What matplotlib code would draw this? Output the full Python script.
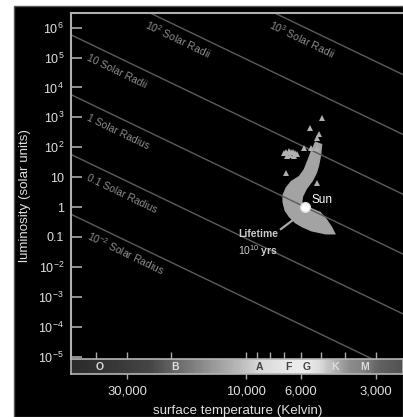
import numpy as np
import matplotlib.pyplot as plt
from matplotlib.colors import LinearSegmentedColormap, Normalize
from matplotlib.patches import Rectangle, Polygon
from matplotlib.ticker import NullLocator

plt.rcParams['font.family'] = ['Liberation Sans', 'DejaVu Sans']
plt.rcParams['mathtext.fontset'] = 'custom'
plt.rcParams['mathtext.rm'] = 'Liberation Sans'
plt.rcParams['mathtext.it'] = 'Liberation Sans:italic'
plt.rcParams['mathtext.bf'] = 'Liberation Sans:bold'

# Solar temperature used for the constant-radius lines
T_SUN = 5778

# Axis ranges (Kelvin, solar luminosities)
T_MAX = 50350
T_MIN = 2338
L_MIN = 10 ** -5.08
L_MAX = 10 ** 6.49

# Constant radius lines and their labels
rayons = [0.01, 0.1, 1, 10, 100, 1000]
labels_rayons = [r'$10^{-2}$ Solar Radius', '0.1 Solar Radius', '1 Solar Radius',
                 '10 Solar Radii', r'$10^{2}$ Solar Radii', r'$10^{3}$ Solar Radii']
temp_labels_rayons = [43900, 43900, 43900, 43900, 25700, 8150]

# Main sequence cloud outline
ms_temp = [5234, 4997, 5044, 5137, 5234, 5430, 5741, 5958, 6013, 5690, 5382, 5044,
           4775, 4561, 4439, 4775, 5430, 5904, 6297, 6656, 6906, 7036, 7036, 6838,
           6533, 6067, 5793, 5584, 5430]
ms_lum = [138, 119, 55, 25.4, 14.8, 8.0, 4.3, 2.33, 1.36, 1.0, 0.79, 0.63,
          0.37, 0.21, 0.135, 0.135, 0.17, 0.23, 0.315, 0.50, 0.79, 1.47, 2.5, 4.3,
          6.9, 10.1, 17.3, 37, 69]

# Giants (triangles), with the small clump near 60 solar luminosities
geantes_temp = [4966, 5534, 5084, 5155, 5849, 5497, 5172, 6866, 5172,
                7036, 6900, 6714, 6600, 6476, 6350, 6237, 6838, 6650, 6412]
geantes_lum = [927, 429, 276, 199, 96, 96, 92, 13.4, 6.5,
               64, 70, 75, 72, 69, 63, 59, 51, 55, 51]

# Sun
sun_temp = 5800
sun_lum = 1.0

# Lifetime pointer
pointer_temp = [6475, 7230]
pointer_lum = [0.367, 0.184]

# Tick values
y_ticks = [1e-5, 1e-4, 1e-3, 1e-2, 0.1, 1, 10, 1e2, 1e3, 1e4, 1e5, 1e6]
y_labels = [r'$10^{-5}$', r'$10^{-4}$', r'$10^{-3}$', r'$10^{-2}$', '0.1', '1', '10',
            r'$10^{2}$', r'$10^{3}$', r'$10^{4}$', r'$10^{5}$', r'$10^{6}$']
x_ticks_haut = [40000, 30000, 20000, 10000, 9000, 8000, 7000, 6000, 5000, 4000, 3000]
x_ticks = [30000, 10000, 6000, 3000]
x_labels = ['30,000', '10,000', '6,000', '3,000']

# Spectral classes bar
classes = ['O', 'B', 'A', 'F', 'G', 'K', 'M']
classes_temp = [38500, 19200, 8845, 6763, 5677, 4393, 3326]
classes_couleur = ['#dddddd', '#dddddd', '#444444', '#444444', '#444444', '#dddddd', '#dddddd']
gradient_temp = [50350, 38500, 24300, 19300, 13950, 10570, 8790, 6780, 5690, 5040,
                 4390, 3820, 3325, 2895, 2338]
gradient_gris = [0.17, 0.20, 0.27, 0.40, 0.58, 0.73, 0.85, 0.91, 0.93, 0.86,
                 0.70, 0.55, 0.50, 0.38, 0.32]

fig = plt.figure(figsize=(4.03, 4.17), dpi=100, facecolor='white')
fig.patches.append(Rectangle((14 / 403, 0), 1 - 14 / 403, 411 / 417,
                             transform=fig.transFigure, facecolor='black',
                             edgecolor='#555555', linewidth=1, zorder=-10))

ax = fig.add_axes([71 / 403, 58 / 417, 332 / 403, 346 / 417])
ax.set_facecolor('black')
ax.set_xscale('log')
ax.set_yscale('log')
ax.set_xlim(T_MAX, T_MIN)
ax.set_ylim(L_MIN, L_MAX)

# Constant radius lines: L = R^2 (T / T_sun)^4
t_ligne = np.array([T_MAX, T_MIN])
for r, lab, t0 in zip(rayons, labels_rayons, temp_labels_rayons):
    ax.plot(t_ligne, r ** 2 * (t_ligne / T_SUN) ** 4, color='#5c5c5c', lw=1)
    ax.annotate(lab, xy=(t0, r ** 2 * (t0 / T_SUN) ** 4), xytext=(0, -13),
                textcoords='offset points', rotation=-25.7, rotation_mode='anchor',
                ha='left', va='baseline', fontsize=7.5, color='#8e8e8e',
                annotation_clip=False)

# Stars
ax.add_patch(Polygon(np.column_stack([ms_temp, ms_lum]), closed=True,
                     facecolor='#a3a3a3', edgecolor='#a3a3a3', lw=2))
ax.plot(geantes_temp, geantes_lum, '^', ms=4.5, color='#b0b0b0', mew=0)
ax.plot(pointer_temp, pointer_lum, color='#a8a8a8', lw=1.6)
ax.plot(sun_temp, sun_lum, 'o', ms=7, color='white', mec='#dddddd')
ax.text(5447, 1.71, 'Sun', fontsize=8.5, color='white', ha='left', va='center')
ax.text(8950, 0.058, 'Lifetime\n' + r'$10^{10}$ yrs', fontsize=7.5, color='#cccccc',
        ha='center', va='center', fontweight='bold', linespacing=1.3)

ax.set_yticks(y_ticks)
ax.set_yticklabels(y_labels)
ax.yaxis.set_minor_locator(NullLocator())
ax.set_xticks(x_ticks_haut)
ax.xaxis.set_minor_locator(NullLocator())
ax.tick_params(axis='y', direction='in', length=8, width=1.2, color='#aaaaaa',
               labelcolor='#e0e0e0', labelsize=9, pad=5)
ax.tick_params(axis='x', direction='in', length=5, width=1, color='#aaaaaa',
               labelbottom=False)
for side in ['bottom', 'right']:
    ax.spines[side].set_visible(False)
for side in ['left', 'top']:
    ax.spines[side].set_color('#b0b0b0')
    ax.spines[side].set_linewidth(1.5)

# Spectral bar
bax = fig.add_axes([71 / 403, 43 / 417, 332 / 403, 15 / 417])
bax.set_xscale('log')
bax.set_xlim(T_MAX, T_MIN)
bax.set_ylim(0, 1)
vmin, vmax = np.log10(T_MIN), np.log10(T_MAX)
stops = [((np.log10(t) - vmin) / (vmax - vmin), (g, g, g))
         for t, g in zip(gradient_temp[::-1], gradient_gris[::-1])]
cmap = LinearSegmentedColormap.from_list('spectre', stops)
bords = np.geomspace(T_MIN, T_MAX, 300)
centres = np.sqrt(bords[:-1] * bords[1:])
bax.pcolormesh(bords, [0, 1], np.log10(centres)[np.newaxis, :], cmap=cmap,
               norm=Normalize(vmin, vmax), shading='flat')
for c, t, col in zip(classes, classes_temp, classes_couleur):
    bax.text(t, 0.48, c, ha='center', va='center', fontsize=7.5, fontweight='bold', color=col)
bax.set_yticks([])
bax.set_xticks(x_ticks)
bax.set_xticklabels(x_labels)
bax.xaxis.set_minor_locator(NullLocator())
bax.tick_params(axis='x', direction='out', length=3.5, width=1, color='#aaaaaa',
                labelcolor='#e0e0e0', labelsize=9.4, pad=5)
for s in bax.spines.values():
    s.set_color('#b5b5b5')
    s.set_linewidth(1.2)

fig.text(238 / 403, 1 - 411 / 417, 'surface temperature (Kelvin)', fontsize=9.6,
         color='#e0e0e0', ha='center', va='center')
fig.text(25 / 403, 1 - 196 / 417, 'luminosity (solar units)', fontsize=9.6,
         color='#e0e0e0', ha='center', va='center', rotation=90)

fig.savefig('out.png', dpi=100, facecolor='white')
